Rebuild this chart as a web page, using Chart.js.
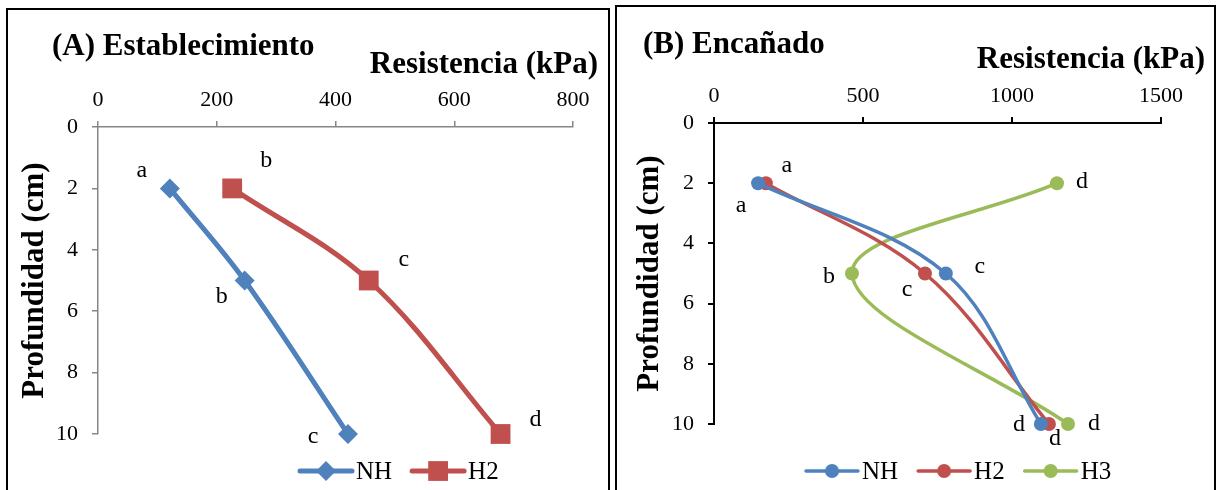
<!DOCTYPE html>
<html>
<head>
<meta charset="utf-8">
<script src="https://cdn.jsdelivr.net/npm/chart.js@4.4.1/dist/chart.umd.min.js"></script>
<style>
  html, body { margin: 0; padding: 0; background: #fff; }
  body { width: 1220px; height: 490px; overflow: hidden; position: relative; }
  .panel { position: absolute; border: 2px solid #000; box-sizing: border-box; overflow: hidden; }
  #panelA { left: 6px; top: 8px; width: 604px; height: 500px; }
  #panelB { left: 615px; top: 5px; width: 601px; height: 500px; }
  .panel canvas { position: absolute; left: 0; top: 0; }
</style>
</head>
<body>
<div class="panel" id="panelA"><canvas id="chartA" width="600" height="480"></canvas></div>
<div class="panel" id="panelB"><canvas id="chartB" width="597" height="483"></canvas></div>
<script>
// ── Data ──────────────────────────────────────────────────────
const depths = [2, 5, 10];
const depthTicks = [0, 2, 4, 6, 8, 10];

// (A) Establecimiento
const estTicks = [0, 200, 400, 600, 800];
const estNH = [121, 247, 421];
const estH2 = [226, 456, 678];
const estNHLetters = ['a', 'b', 'c'];
const estH2Letters = ['b', 'c', 'd'];

// (B) Encañado
const encTicks = [0, 500, 1000, 1500];
const encNH = [148, 778, 1097];
const encH2 = [174, 708, 1124];
const encH3 = [1151, 463, 1188];
const encNHLetters = ['a', 'c', 'd'];
const encH2Letters = ['a', 'c', 'd'];
const encH3Letters = ['d', 'b', 'd'];

// ── Letter placement (px offset from marker) ──────────────────
const estNHPos = [[-28, -18], [-23, 16], [-35, 3]];
const estH2Pos = [[34, -28], [35, -21], [35, -14]];
const encNHPos = [[-17, 23], [34, -7], [-22, 1]];
const encH2Pos = [[21, -17], [-18, 16], [6, 15]];
const encH3Pos = [[25, -1], [-23, 3], [26, 0]];

const BLUE = '#4F81BD', RED = '#C0504D', GREEN = '#9BBB59';
const SERIF = '"Liberation Serif", "Times New Roman", serif';

// ── Helpers ───────────────────────────────────────────────────
function series(label, values, color, style, radius, width) {
  return {
    label,
    data: depths.map((d, i) => ({ x: values[i], y: d })),
    borderColor: color, backgroundColor: color,
    pointBackgroundColor: color, pointBorderColor: color, pointBorderWidth: 0,
    pointStyle: style, pointRadius: radius, pointHoverRadius: radius,
    borderWidth: width, showLine: true, tension: 0.35, fill: false, clip: false
  };
}

function drawMarker(ctx, style, x, y, r, color) {
  ctx.fillStyle = color;
  ctx.beginPath();
  if (style === 'rectRot') {
    ctx.moveTo(x, y - r); ctx.lineTo(x + r, y); ctx.lineTo(x, y + r); ctx.lineTo(x - r, y);
    ctx.closePath();
  } else if (style === 'rect') {
    const s = r * Math.SQRT1_2;
    ctx.rect(x - s, y - s, 2 * s, 2 * s);
  } else {
    ctx.arc(x, y, r, 0, Math.PI * 2);
  }
  ctx.fill();
}

function textPlugin(cfg) {
  return {
    id: 'panelText',
    afterDatasetsDraw(chart) {
      const ctx = chart.ctx;
      ctx.save();
      ctx.fillStyle = '#000';
      ctx.textBaseline = 'middle';

      ctx.font = 'bold 31px ' + SERIF;
      ctx.textAlign = 'left';
      ctx.fillText(cfg.title, cfg.titleX, cfg.titleY);
      ctx.textAlign = 'right';
      ctx.fillText('Resistencia (kPa)', cfg.xTitleX, cfg.xTitleY);

      // point letters
      ctx.font = '24px ' + SERIF;
      ctx.textAlign = 'center';
      chart.data.datasets.forEach((ds, i) => {
        chart.getDatasetMeta(i).data.forEach((pt, j) => {
          const [dx, dy] = cfg.letterPos[i][j];
          ctx.fillStyle = '#000';
          ctx.fillText(cfg.letters[i][j], pt.x + dx, pt.y + dy);
        });
      });

      // legend: line + marker + text
      let x = cfg.legendX;
      const y = cfg.legendY;
      ctx.font = '25px ' + SERIF;
      ctx.textAlign = 'left';
      chart.data.datasets.forEach(ds => {
        ctx.strokeStyle = ds.borderColor;
        ctx.lineWidth = ds.borderWidth;
        ctx.lineCap = 'round';
        ctx.beginPath(); ctx.moveTo(x, y); ctx.lineTo(x + 52, y); ctx.stroke();
        drawMarker(ctx, ds.pointStyle, x + 26, y, ds.pointRadius, ds.borderColor);
        ctx.fillStyle = '#000';
        ctx.fillText(ds.label, x + 56, y + 1);
        x += 56 + ctx.measureText(ds.label).width + 20;
      });
      ctx.restore();
    }
  };
}

function scales(xMax, xTicks, axisColor, axisWidth, top, left, yTitlePad) {
  const grid = { drawOnChartArea: false, drawTicks: true, tickLength: 6, color: axisColor, lineWidth: axisWidth };
  const border = { display: true, color: axisColor, width: axisWidth };
  const tickFont = { family: SERIF, size: 22 };
  return {
    x: {
      type: 'linear', position: 'top', min: 0, max: xMax,
      afterBuildTicks: s => { s.ticks = xTicks.map(v => ({ value: v })); },
      afterFit: s => { s.height = top; },
      grid, border,
      ticks: { color: '#000', font: tickFont, padding: 8, autoSkip: false, maxRotation: 0, callback: v => String(v) }
    },
    y: {
      type: 'linear', reverse: true, min: 0, max: 10,
      afterBuildTicks: s => { s.ticks = depthTicks.map(v => ({ value: v })); },
      afterFit: s => { s.width = left; },
      grid, border,
      ticks: { color: '#000', font: tickFont, padding: 14, autoSkip: false, callback: v => String(v) },
      title: {
        display: true, text: 'Profundidad (cm)', color: '#000',
        font: { family: SERIF, size: 31, weight: 'bold' },
        padding: { top: yTitlePad, bottom: 0 }
      }
    }
  };
}

function baseOptions(pad, sc) {
  return {
    responsive: false, animation: false, events: [],
    layout: { padding: pad },
    plugins: { legend: { display: false }, tooltip: { enabled: false } },
    scales: sc
  };
}

// ── (A) Establecimiento ───────────────────────────────────────
new Chart(document.getElementById('chartA'), {
  type: 'scatter',
  data: {
    datasets: [
      series('NH', estNH, BLUE, 'rectRot', 10, 5),
      series('H2', estH2, RED, 'rect', 14, 5)
    ]
  },
  options: baseOptions({ left: 0, top: 0, right: 35, bottom: 56 },
    scales(800, estTicks, '#868686', 1.5, 117, 90, 8)),
  plugins: [textPlugin({
    title: '(A) Establecimiento', titleX: 44, titleY: 37,
    xTitleX: 590, xTitleY: 55,
    letters: [estNHLetters, estH2Letters], letterPos: [estNHPos, estH2Pos],
    legendX: 292, legendY: 461
  })]
});

// ── (B) Encañado ──────────────────────────────────────────────
new Chart(document.getElementById('chartB'), {
  type: 'scatter',
  data: {
    datasets: [
      series('NH', encNH, BLUE, 'circle', 7, 3.5),
      series('H2', encH2, RED, 'circle', 7, 3.5),
      series('H3', encH3, GREEN, 'circle', 7, 3.5)
    ]
  },
  options: baseOptions({ left: 0, top: 0, right: 53, bottom: 66 },
    scales(1500, encTicks, '#000', 2, 116, 97, 14)),
  plugins: [textPlugin({
    title: '(B) Encañado', titleX: 26, titleY: 38,
    xTitleX: 588, xTitleY: 53,
    letters: [encNHLetters, encH2Letters, encH3Letters], letterPos: [encNHPos, encH2Pos, encH3Pos],
    legendX: 189, legendY: 464
  })]
});
</script>
</body>
</html>
